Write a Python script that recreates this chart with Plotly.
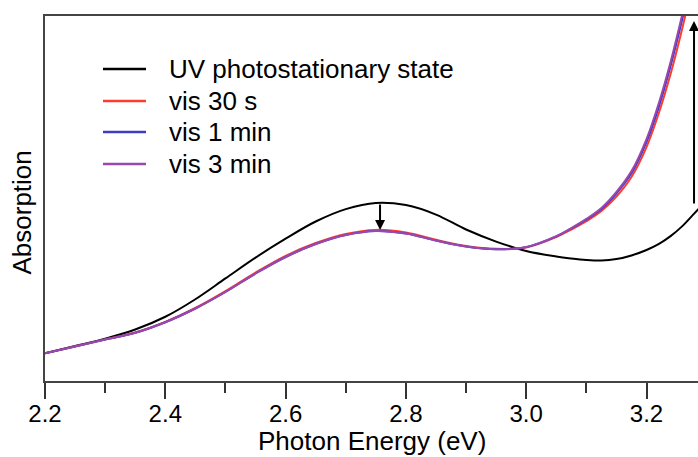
import plotly.graph_objects as go

# ---- data (absorption in arbitrary units) ----
energy_ev = [2.20, 2.25, 2.30, 2.35, 2.40, 2.45, 2.50, 2.55, 2.60, 2.65, 2.70, 2.75,
             2.80, 2.85, 2.90, 2.95, 3.00, 3.05, 3.075, 3.10, 3.125, 3.15, 3.175,
             3.20, 3.22, 3.24, 3.26, 3.28, 3.30]

uv_pss = [0.076, 0.096, 0.116, 0.141, 0.176, 0.224, 0.281, 0.338, 0.390, 0.437,
          0.471, 0.488, 0.482, 0.456, 0.415, 0.382, 0.356, 0.341, 0.3356, 0.3315,
          0.330, 0.334, 0.344, 0.359, 0.375, 0.397, 0.425, 0.460, 0.496]

vis_30s = [0.076, 0.095, 0.114, 0.133, 0.162, 0.200, 0.246, 0.297, 0.343, 0.378,
           0.403, 0.414, 0.407, 0.387, 0.370, 0.362, 0.366, 0.3945, 0.415, 0.438,
           0.466, 0.5055, 0.559, 0.641, 0.7315, 0.841, 0.970, 1.115, 1.279]

vis_1min = [0.076, 0.0945, 0.1137, 0.132, 0.161, 0.1986, 0.2438, 0.2945, 0.3397, 0.3753,
            0.400, 0.411, 0.4041, 0.3849, 0.3685, 0.3608, 0.3668, 0.396, 0.418, 0.442,
            0.471, 0.514, 0.569, 0.655, 0.749, 0.863, 0.995, 1.140, 1.304]

vis_3min = [0.076, 0.0945, 0.1137, 0.132, 0.161, 0.1986, 0.2438, 0.2945, 0.3397, 0.3753,
            0.400, 0.411, 0.4041, 0.3849, 0.3685, 0.3608, 0.367, 0.397, 0.419, 0.444,
            0.474, 0.518, 0.575, 0.663, 0.759, 0.874, 1.008, 1.153, 1.318]

series_names = ["UV photostationary state", "vis 30 s", "vis 1 min", "vis 3 min"]
series_values = [uv_pss, vis_30s, vis_1min, vis_3min]
series_colors = ["#000000", "#ff3b30", "#3c3cc8", "#9a48ae"]

x_ticks = [2.2, 2.4, 2.6, 2.8, 3.0, 3.2]
x_tick_labels = ["2.2", "2.4", "2.6", "2.8", "3.0", "3.2"]

FONT = "Liberation Sans, Arial, Helvetica, sans-serif"

fig = go.Figure()
for name, vals, col in zip(series_names, series_values, series_colors):
    fig.add_trace(go.Scatter(x=energy_ev, y=vals, mode="lines", name=name,
                             line=dict(color=col, width=2, shape="spline", smoothing=1.0),
                             showlegend=False))

# manual legend (line sample + label)
legend_y = [0.855, 0.767, 0.682, 0.5945]
for name, col, ly in zip(series_names, series_colors, legend_y):
    fig.add_shape(type="line", xref="paper", yref="paper", x0=0.0888, x1=0.1547,
                  y0=ly, y1=ly, line=dict(color=col, width=2.5))
    fig.add_annotation(xref="paper", yref="paper", x=0.1868, y=ly, text=name,
                       showarrow=False, xanchor="left", yanchor="middle",
                       font=dict(family=FONT, size=26, color="#000"))

# arrows (change upon visible irradiation)
peak_e = 2.757
fig.add_annotation(x=peak_e, y=0.4137, ax=peak_e, ay=0.4877, xref="x", yref="y",
                   axref="x", ayref="y", text="", showarrow=True, arrowhead=2,
                   arrowsize=1, arrowwidth=2, arrowcolor="#000", standoff=0)
edge_e = 3.279
fig.add_annotation(x=edge_e, y=0.986, ax=edge_e, ay=0.482, xref="x", yref="y",
                   axref="x", ayref="y", text="", showarrow=True, arrowhead=2,
                   arrowsize=1, arrowwidth=2, arrowcolor="#000", standoff=0)

# axis titles
fig.add_annotation(xref="paper", yref="paper", x=0.5, y=-0.164, text="Photon Energy (eV)",
                   showarrow=False, xanchor="center", yanchor="middle",
                   font=dict(family=FONT, size=26, color="#000"))
fig.add_annotation(xref="paper", yref="paper", x=-0.0352, y=0.4616, text="Absorption",
                   showarrow=False, xanchor="center", yanchor="middle", textangle=-90,
                   font=dict(family=FONT, size=26, color="#000"))

fig.update_layout(
    width=698, height=457,
    margin=dict(l=45, r=0, t=16, b=76),
    paper_bgcolor="white", plot_bgcolor="white",
    font=dict(family=FONT, color="#000"),
    xaxis=dict(range=[2.2, 3.2856], tickmode="array", tickvals=x_ticks,
               ticktext=x_tick_labels, ticks="outside", ticklen=16, tickwidth=2,
               tickcolor="#333", showline=True, linewidth=2, linecolor="#444",
               mirror=True, showgrid=False, zeroline=False, ticklabelstandoff=-6,
               tickfont=dict(family=FONT, size=24, color="#000"),
               minor=dict(dtick=0.1, tick0=2.2, ticks="outside", ticklen=10,
                          tickwidth=2, tickcolor="#333", showgrid=False)),
    yaxis=dict(range=[0, 1], showticklabels=False, ticks="", showline=True,
               linewidth=2, linecolor="#444", mirror=False, showgrid=False,
               zeroline=False),
)

fig.write_html("out.html")
